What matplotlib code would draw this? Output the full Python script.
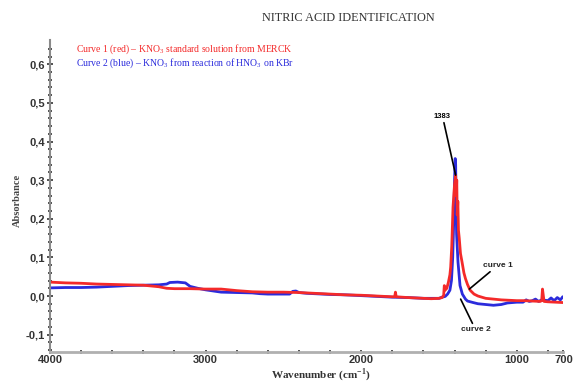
import matplotlib
matplotlib.use('Agg')
import matplotlib.pyplot as plt
from matplotlib.ticker import FixedLocator, FuncFormatter

plt.rcParams['mathtext.fontset'] = 'custom'
plt.rcParams['mathtext.rm'] = 'Liberation Serif'
plt.rcParams['mathtext.bf'] = 'Liberation Serif:bold'

# Curve 1 (red) - KNO3 standard solution
wnRed = [4000, 3900, 3800, 3700, 3600, 3500, 3400, 3300, 3250, 3200, 3100, 3000, 2900, 2800,
         2700, 2600, 2500, 2400, 2300, 2200, 2100, 2000, 1900, 1800, 1785, 1780, 1775, 1700,
         1600, 1550, 1500, 1480, 1470, 1466, 1461, 1450, 1440, 1430, 1425, 1418, 1410, 1400,
         1393, 1389, 1386, 1383, 1379, 1375, 1370, 1362, 1352, 1340, 1330, 1317, 1300, 1275,
         1250, 1200, 1150, 1100, 1050, 1000, 950, 900, 850, 840, 835, 830, 825, 800, 750, 700]
absRed = [0.036, 0.034, 0.033, 0.031, 0.030, 0.029, 0.028, 0.024, 0.020, 0.019, 0.019, 0.018,
          0.018, 0.014, 0.011, 0.010, 0.010, 0.009, 0.007, 0.005, 0.003, 0.002, 0.000, -0.002,
          -0.002, 0.010, -0.002, -0.004, -0.006, -0.007, -0.006, -0.004, 0.002, 0.027, 0.015,
          0.020, 0.035, 0.055, 0.075, 0.130, 0.230, 0.290, 0.312, 0.260, 0.300, 0.210, 0.245,
          0.170, 0.150, 0.110, 0.088, 0.060, 0.045, 0.030, 0.015, 0.005, 0.000, -0.006, -0.008,
          -0.010, -0.011, -0.012, -0.012, -0.013, -0.014, -0.012, 0.018, 0.002, -0.014, -0.015,
          -0.016, -0.017]

# Curve 2 (blue) - KNO3 from reaction of HNO3 on KBr
wnBlue = [4000, 3900, 3800, 3700, 3600, 3500, 3400, 3300, 3250, 3230, 3180, 3130, 3100, 3050,
          3000, 2900, 2800, 2700, 2650, 2600, 2500, 2460, 2440, 2420, 2400, 2350, 2300, 2200,
          2100, 2000, 1900, 1800, 1700, 1600, 1560, 1500, 1480, 1460, 1445, 1430, 1420, 1412,
          1405, 1400, 1396, 1393, 1390, 1387, 1378, 1365, 1350, 1330, 1317, 1280, 1250, 1200,
          1150, 1100, 1060, 1000, 960, 940, 920, 900, 880, 860, 840, 800, 780, 760, 740, 720,
          705, 700]
absBlue = [0.021, 0.022, 0.022, 0.023, 0.025, 0.027, 0.028, 0.029, 0.031, 0.035, 0.036, 0.034,
           0.025, 0.020, 0.016, 0.010, 0.009, 0.008, 0.006, 0.005, 0.005, 0.005, 0.012, 0.013,
           0.009, 0.007, 0.006, 0.004, 0.003, 0.001, -0.001, -0.003, -0.004, -0.006, -0.006,
           -0.006, -0.003, -0.001, 0.005, 0.015, 0.040, 0.100, 0.200, 0.300, 0.356, 0.340,
           0.230, 0.160, 0.088, 0.027, 0.005, -0.008, -0.013, -0.017, -0.020, -0.022, -0.024,
           -0.022, -0.018, -0.016, -0.016, -0.010, -0.014, -0.012, -0.008, -0.014, -0.010,
           -0.012, -0.005, -0.012, -0.004, -0.010, -0.002, -0.002]

xMajor = [4000, 3000, 2000, 1000, 700]
xMinor = [3800, 3600, 3400, 3200, 2800, 2600, 2400, 2200, 1800, 1600, 1400, 1200, 800]
yMajor = [-0.1, 0.0, 0.1, 0.2, 0.3, 0.4, 0.5, 0.6]

fig = plt.figure(figsize=(5.74, 3.85), dpi=100)
ax = fig.add_axes([0.0871, 0.0857, 0.8946, 0.8104])

ax.plot(wnBlue, absBlue, color='#2b2bdc', lw=2.0)
ax.plot(wnRed, absRed, color='#f42a2a', lw=2.0)

ax.set_xlim(4000, 700)
ax.set_ylim(-0.145, 0.663)

for s in ['top', 'right']:
    ax.spines[s].set_visible(False)
ax.spines['left'].set_color('#8a8a8a')
ax.spines['left'].set_linewidth(1.5)
ax.spines['bottom'].set_color('#b0b0b0')
ax.spines['bottom'].set_linewidth(2)

ax.xaxis.set_major_locator(FixedLocator(xMajor))
ax.xaxis.set_minor_locator(FixedLocator(xMinor))
ax.yaxis.set_major_locator(FixedLocator(yMajor))
ax.yaxis.set_minor_locator(FixedLocator([v / 100 for v in range(-14, 66, 2)]))
ax.yaxis.set_major_formatter(FuncFormatter(lambda v, p: ('%.1f' % v).replace('.', ',')))
ax.tick_params(which='both', direction='inout', color='#333333', width=1.2)
ax.tick_params(axis='x', which='both', length=3, pad=1)
ax.tick_params(axis='y', which='major', length=5, pad=1)
ax.tick_params(axis='y', which='minor', length=2.5)
for lab in ax.get_xticklabels() + ax.get_yticklabels():
    lab.set_fontfamily('Liberation Sans')
    lab.set_fontweight('bold')
    lab.set_fontsize(8)
    lab.set_color('#333333')

# annotations
ax.annotate('1383', xy=(1393, 0.313), xytext=(1532, 0.456), fontsize=5.5, fontweight='bold',
            family='Liberation Sans', ha='left', va='bottom',
            arrowprops=dict(arrowstyle='-', color='black', lw=1.2, shrinkA=0, shrinkB=0))
ax.annotate('curve 1', xy=(1305, 0.018), xytext=(1219, 0.070), fontsize=6, fontweight='bold',
            family='Liberation Sans', ha='left', va='bottom', color='#222222',
            arrowprops=dict(arrowstyle='-', color='black', lw=1.2, shrinkA=0, shrinkB=0))
ax.annotate('curve 2', xy=(1361, -0.008), xytext=(1361, -0.078), fontsize=6, fontweight='bold',
            family='Liberation Sans', ha='left', va='top', color='#222222',
            arrowprops=dict(arrowstyle='-', color='black', lw=1.2, shrinkA=0, shrinkB=0))

fig.text(0.606, 0.953, 'NITRIC ACID IDENTIFICATION', ha='center', va='center',
         family='Liberation Serif', fontsize=8.8, color='#333333')
fig.text(0.132, 0.873, 'Curve 1 (red) \u2013 KNO$_\\mathrm{3}$ standard solution from MERCK',
         ha='left', va='center', family='Liberation Serif', fontsize=7, color='#f42a2a')
fig.text(0.132, 0.836, 'Curve 2 (blue) \u2013 KNO$_\\mathrm{3}$ from reaction of HNO$_\\mathrm{3}$ on KBr',
         ha='left', va='center', family='Liberation Serif', fontsize=7, color='#2b2bdc')
fig.text(0.030, 0.48, 'Absorbance', rotation=90, ha='center', va='center',
         family='Liberation Serif', fontweight='bold', fontsize=7.5, color='#444444')
fig.text(0.559, 0.026, 'Wavenumber (cm$^{\\mathbf{-1}}$)', ha='center', va='center',
         family='Liberation Serif', fontweight='bold', fontsize=8, color='#333333')

fig.savefig('out.png', dpi=100)
